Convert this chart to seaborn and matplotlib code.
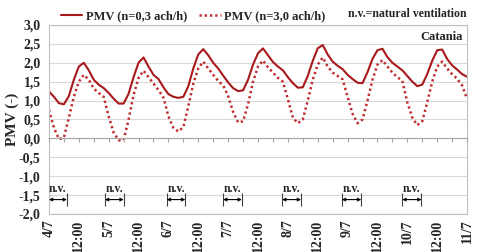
import numpy as np
import pandas as pd
import seaborn as sns
import matplotlib.pyplot as plt

# one reading every 2 h from 4/7 00:00 to 11/7 00:00
hours = np.arange(0, 169, 2)

pmv_low = [1.24, 1.10, 0.93, 0.90, 1.12, 1.55, 1.90, 2.00, 1.80, 1.55, 1.42, 1.33,
           1.20, 1.05, 0.92, 0.92, 1.18, 1.62, 2.00, 2.14, 1.90, 1.68, 1.57, 1.35,
           1.17, 1.10, 1.07, 1.10, 1.38, 1.85, 2.22, 2.36, 2.20, 2.00, 1.85, 1.66,
           1.48, 1.33, 1.25, 1.27, 1.55, 1.95, 2.25, 2.38, 2.20, 2.02, 1.90, 1.80,
           1.62, 1.46, 1.34, 1.35, 1.65, 2.05, 2.38, 2.47, 2.22, 2.03, 1.92, 1.83,
           1.68, 1.57, 1.47, 1.46, 1.75, 2.10, 2.33, 2.37, 2.15, 2.00, 1.90, 1.80,
           1.65, 1.50, 1.38, 1.42, 1.70, 2.05, 2.33, 2.35, 2.10, 1.93, 1.82, 1.70,
           1.63]

pmv_high = [0.75, 0.28, -0.02, 0.02, 0.55, 1.10, 1.50, 1.68, 1.55, 1.32, 1.20, 1.10,
            0.58, 0.15, -0.05, -0.05, 0.50, 1.15, 1.60, 1.79, 1.62, 1.45, 1.28, 1.08,
            0.58, 0.28, 0.18, 0.30, 0.85, 1.45, 1.85, 2.03, 1.85, 1.68, 1.52, 1.40,
            1.12, 0.70, 0.42, 0.45, 0.90, 1.50, 1.90, 2.06, 1.88, 1.74, 1.60, 1.50,
            1.04, 0.55, 0.40, 0.50, 1.00, 1.55, 1.95, 2.14, 1.90, 1.74, 1.65, 1.56,
            1.10, 0.65, 0.40, 0.50, 1.00, 1.55, 1.95, 2.07, 1.90, 1.74, 1.62, 1.52,
            0.95, 0.55, 0.35, 0.45, 0.95, 1.50, 1.90, 2.03, 1.85, 1.70, 1.58, 1.40,
            1.05]

tick_labels = ["4/7", "12:00", "5/7", "12:00", "6/7", "12:00", "7/7", "12:00",
               "8/7", "12:00", "9/7", "12:00", "10/7", "12:00", "11/7"]

y_ticks = [-2.0, -1.5, -1.0, -0.5, 0.0, 0.5, 1.0, 1.5, 2.0, 2.5, 3.0]

# natural ventilation periods (hours from 4/7 00:00)
nv_start = [0, 22.5, 47.3, 70, 93.7, 117.7, 142]
nv_end = [7.2, 30, 54.8, 77.5, 101.3, 125.5, 149.7]

df = pd.DataFrame({"h": hours, "low": pmv_low, "high": pmv_high})

sns.set_style("white")
plt.rcParams["font.family"] = ["Liberation Serif", "DejaVu Serif"]

fig = plt.figure(figsize=(4.8, 2.52), dpi=100)
ax = fig.add_axes([0.102, 0.151, 0.871, 0.750])

sns.lineplot(data=df, x="h", y="low", ax=ax, color="#A8191C", lw=1.5,
             label="PMV (n=0,3 ach/h)")
sns.lineplot(data=df, x="h", y="high", ax=ax, color="#C0282A", lw=1.8,
             label="PMV (n=3,0 ach/h)")
ax.lines[1].set_linestyle((0, (0.9, 1.2)))

ax.set_xlim(0, 168)
ax.set_ylim(-2, 3)
ax.set_yticks(y_ticks)
ax.set_yticklabels([f"{v:.1f}".replace(".", ",") for v in y_ticks],
                   fontsize=10, fontweight="bold")
ax.set_xticks(np.arange(0, 169, 12))
ax.set_xticklabels(tick_labels, rotation=90, fontsize=10, fontweight="bold")
ax.tick_params(axis="y", length=0, pad=6)
ax.tick_params(axis="x", length=0, pad=4)
ax.grid(axis="y", color="#D9D9D9", lw=0.8)
for s in ax.spines.values():
    s.set_color("#BFBFBF")
    s.set_linewidth(0.8)
ax.set_xlabel("")
ax.set_ylabel("PMV (-)", fontsize=11, fontweight="bold", labelpad=0)

# axis line at zero with 6 h tick marks
ax2 = ax.twiny()
ax2.set_xlim(0, 168)
ax2.xaxis.set_ticks_position("bottom")
ax2.spines["bottom"].set_position(("data", 0))
for k in ["top", "left", "right"]:
    ax2.spines[k].set_visible(False)
ax2.spines["bottom"].set_color("#A6A6A6")
ax2.spines["bottom"].set_linewidth(0.8)
ax2.set_xticks(np.arange(0, 169, 6))
ax2.set_xticklabels([])
ax2.tick_params(axis="x", length=3, color="#A6A6A6", direction="out")

# natural ventilation markers
for a, b in zip(nv_start, nv_end):
    ax.annotate("", xy=(a, -1.62), xytext=(b, -1.62),
                arrowprops=dict(arrowstyle="<->", color="black", lw=0.8,
                                mutation_scale=5, shrinkA=0, shrinkB=0))
    ax.vlines([a, b], -1.45, -1.8, color="#404040", lw=0.8)
    ax.text((a + b) / 2, -1.33, "n.v.", ha="center", va="center",
            fontsize=8.5, fontweight="bold")

ax.text(0.99, 0.97, "Catania", transform=ax.transAxes, ha="right", va="top",
        fontsize=9, fontweight="bold")
fig.text(0.973, 0.945, "n.v.=natural ventilation", ha="right", va="center",
         fontsize=8.5, fontweight="bold")

ax.legend(loc="center left", bbox_to_anchor=(0.028, 1.045), ncol=2, frameon=False,
          prop={"size": 9, "weight": "bold"}, handlelength=1.7, handletextpad=0.3,
          columnspacing=1.0, borderpad=0, borderaxespad=0)

fig.savefig("out.png", dpi=100)
